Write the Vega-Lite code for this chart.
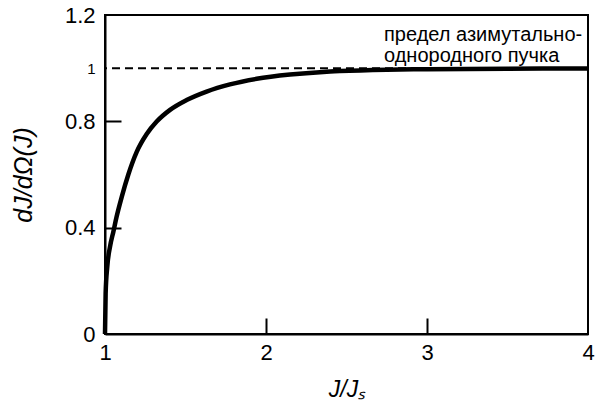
{
  "$schema": "https://vega.github.io/schema/vega-lite/v6.json",
  "width": 483,
  "height": 319,
  "autosize": {"type": "none"},
  "padding": {"left": 105, "top": 15, "right": 19, "bottom": 80},
  "background": "white",
  "config": {
    "view": {"stroke": "black", "strokeWidth": 2},
    "font": "Liberation Sans",
    "axis": {
      "grid": false,
      "domainColor": "black",
      "domainWidth": 2,
      "tickColor": "black",
      "tickWidth": 2,
      "labelColor": "black",
      "labelFont": "Liberation Sans",
      "labelFontSize": 22,
      "labelFlush": false,
      "titleColor": "black",
      "titleFont": "Liberation Sans",
      "titleFontStyle": "italic",
      "titleFontWeight": "normal"
    }
  },
  "datasets": {
    "curve": [
      {"x": 1.0, "y": 0.0},
      {"x": 1.004, "y": 0.153},
      {"x": 1.014, "y": 0.253},
      {"x": 1.031, "y": 0.328},
      {"x": 1.052, "y": 0.385},
      {"x": 1.072, "y": 0.441},
      {"x": 1.104, "y": 0.516},
      {"x": 1.145, "y": 0.600},
      {"x": 1.197, "y": 0.685},
      {"x": 1.259, "y": 0.752},
      {"x": 1.321, "y": 0.799},
      {"x": 1.404, "y": 0.843},
      {"x": 1.507, "y": 0.880},
      {"x": 1.631, "y": 0.912},
      {"x": 1.776, "y": 0.939},
      {"x": 1.942, "y": 0.960},
      {"x": 2.149, "y": 0.976},
      {"x": 2.356, "y": 0.986},
      {"x": 2.46, "y": 0.989},
      {"x": 2.75, "y": 0.994},
      {"x": 3.0, "y": 0.996},
      {"x": 3.5, "y": 0.998},
      {"x": 4.0, "y": 0.999}
    ],
    "limit": [{"y": 1}],
    "notes": [
      {"x": 2.733, "y": 1.1022, "label": "предел азимутально-"},
      {"x": 2.733, "y": 1.0232, "label": "однородного пучка"}
    ]
  },
  "resolve": {"axis": {"x": "independent", "y": "independent"}},
  "layer": [
    {
      "data": {"name": "curve"},
      "mark": {"type": "line", "color": "black", "strokeWidth": 4.5, "interpolate": "monotone"},
      "encoding": {
        "x": {
          "field": "x", "type": "quantitative",
          "scale": {"domain": [1, 4], "nice": false, "zero": false},
          "axis": {"orient": "bottom", "values": [1, 2, 3, 4], "format": "d", "ticks": false, "labelPadding": 8, "title": "J/Jₛ", "titleFontSize": 23, "titlePadding": 15}
        },
        "y": {
          "field": "y", "type": "quantitative",
          "scale": {"domain": [0, 1.2], "nice": false},
          "axis": {
            "orient": "left",
            "values": [0, 0.4, 0.8, 1, 1.2],
            "format": "~g",
            "ticks": false,
            "labelPadding": 10,
            "labelFontSize": {"condition": {"test": "datum.value == 1", "value": 15}, "value": 22},
            "title": "dJ/dΩ(J)",
            "titleFontSize": 25,
            "titlePadding": 28
          }
        }
      }
    },
    {
      "data": {"name": "limit"},
      "mark": {"type": "rule", "strokeDash": [8, 5], "strokeWidth": 2, "color": "black"},
      "encoding": {"y": {"field": "y", "type": "quantitative", "axis": null}}
    },
    {
      "data": {"name": "notes"},
      "mark": {"type": "text", "align": "left", "baseline": "alphabetic", "fontSize": 20, "font": "Liberation Sans", "color": "black"},
      "encoding": {
        "x": {
          "field": "x", "type": "quantitative",
          "axis": {"orient": "bottom", "offset": -16, "values": [2, 3], "domain": false, "labels": false, "ticks": true, "tickSize": 16, "tickColor": "black", "tickWidth": 2, "tickOpacity": 1, "zindex": 1, "title": null}
        },
        "y": {
          "field": "y", "type": "quantitative",
          "axis": {"orient": "left", "offset": -16, "values": [0.4, 0.8], "domain": false, "labels": false, "ticks": true, "tickSize": 16, "tickColor": "black", "tickWidth": 2, "tickOpacity": 1, "zindex": 1, "title": null}
        },
        "text": {"field": "label"}
      }
    }
  ]
}
